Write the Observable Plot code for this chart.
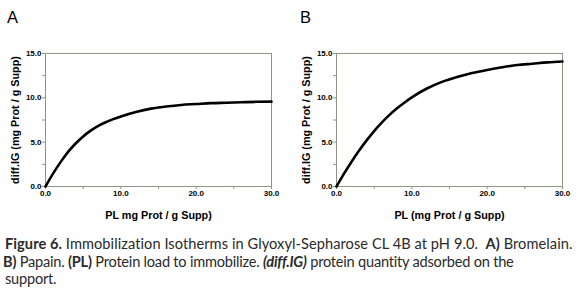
<!DOCTYPE html>
<html><head><meta charset="utf-8">
<script src="https://cdn.jsdelivr.net/npm/d3@7"></script>
<script src="https://cdn.jsdelivr.net/npm/@observablehq/plot@0.6"></script>
<style>
body{margin:0;background:#fff;}
#wrap{position:relative;width:579px;height:305px;overflow:hidden;}
.panel{position:absolute;top:0;}
.letter{position:absolute;top:8px;font:16.5px "Liberation Sans",Arial,sans-serif;color:#000;}
#cap{position:absolute;left:5px;top:235px;width:576px;font:14.6px Lato,sans-serif;line-height:17.5px;color:#2a2a2a;white-space:nowrap;}
#cap .l1{letter-spacing:0.07px;}
#cap .l2{letter-spacing:-0.22px;margin-left:-2px;}
#cap .l3{letter-spacing:-0.22px;}
</style></head><body>
<div id="wrap">
<div class="panel" id="pa" style="left:0"></div>
<div class="panel" id="pb" style="left:290px"></div>
<div class="letter" style="left:7px">A</div>
<div class="letter" style="left:300px">B</div>
<div id="cap"><span class="l1"><b>Figure 6.</b> Immobilization Isotherms in Glyoxyl-Sepharose CL 4B at pH 9.0.&nbsp; <b>A)</b> Bromelain.</span><br><span class="l2"><b>B)</b> Papain. <b>(PL)</b> Protein load to immobilize. <b><i>(diff.IG)</i></b> protein quantity adsorbed on the</span><br><span class="l3">support.</span></div>
</div>
<script>
const plX = [0, 1, 2, 3, 4, 5, 6, 7, 8, 9, 10, 12, 14, 16, 18, 20, 22, 24, 26, 28, 30];
const bromelain = [0, 1.45, 2.75, 3.9, 4.85, 5.65, 6.3, 6.85, 7.25, 7.6, 7.9, 8.4, 8.78, 9.02, 9.2, 9.3, 9.4, 9.45, 9.5, 9.55, 9.57];
const papain = [0, 1.45, 2.8, 4.05, 5.2, 6.25, 7.2, 8.05, 8.8, 9.45, 10.05, 11.05, 11.8, 12.35, 12.8, 13.15, 13.45, 13.7, 13.85, 14.0, 14.1];
const xMajor = [0, 10, 20, 30];
const xMinor = [5, 15, 25];
const yMajor = [0, 5, 10, 15];
const yMinor = [2.5, 7.5, 12.5];
const xTitles = ["PL mg Prot / g Supp)", "PL (mg Prot / g Supp)"];
const yTitle = "diff.IG (mg Prot / g Supp)";

function panel(values, xTitle, w, ml, mr) {
  const data = plX.map((x, i) => ({x, y: values[i]}));
  const fmt = d => d.toFixed(1);
  const axisColor = "#8a9884";
  return Plot.plot({
    width: w, height: 230,
    marginLeft: ml, marginRight: mr, marginTop: 53, marginBottom: 44,
    style: {fontFamily: "'Liberation Sans', Arial, sans-serif", fontSize: "8px", fontWeight: "bold", color: "#000", background: "transparent"},
    x: {domain: [0, 30]},
    y: {domain: [0, 15]},
    marks: [
      Plot.frame({stroke: axisColor, strokeWidth: 1}),
      Plot.axisX(xMinor, {tickSize: 3, tickFormat: () => "", label: null, stroke: axisColor}),
      Plot.axisY(yMinor, {tickSize: 3, tickFormat: () => "", label: null, stroke: axisColor}),
      Plot.axisX(xMajor, {tickSize: 3, tickPadding: 1, tickFormat: fmt, stroke: axisColor, fill: "#000", label: null, fontSize: 8}),
      Plot.axisY(yMajor, {tickSize: 3, tickPadding: 1, tickFormat: fmt, stroke: axisColor, fill: "#000", label: null, fontSize: 8}),
      Plot.text([xTitle], {frameAnchor: "bottom", dy: 29, textAnchor: "middle", lineAnchor: "middle", fontSize: 10.8, fontWeight: "bold", fill: "#000"}),
      Plot.text([yTitle], {frameAnchor: "left", dx: -30, rotate: -90, textAnchor: "middle", lineAnchor: "middle", fontSize: 10.8, fontWeight: "bold", fill: "#000"}),
      Plot.line(data, {x: "x", y: "y", stroke: "#000", strokeWidth: 2.6, curve: "monotone-x"})
    ]
  });
}
document.getElementById("pa").append(panel(bromelain, xTitles[0], 290, 45, 19));
document.getElementById("pb").append(panel(papain, xTitles[1], 289, 46, 17));
</script>
</body></html>
